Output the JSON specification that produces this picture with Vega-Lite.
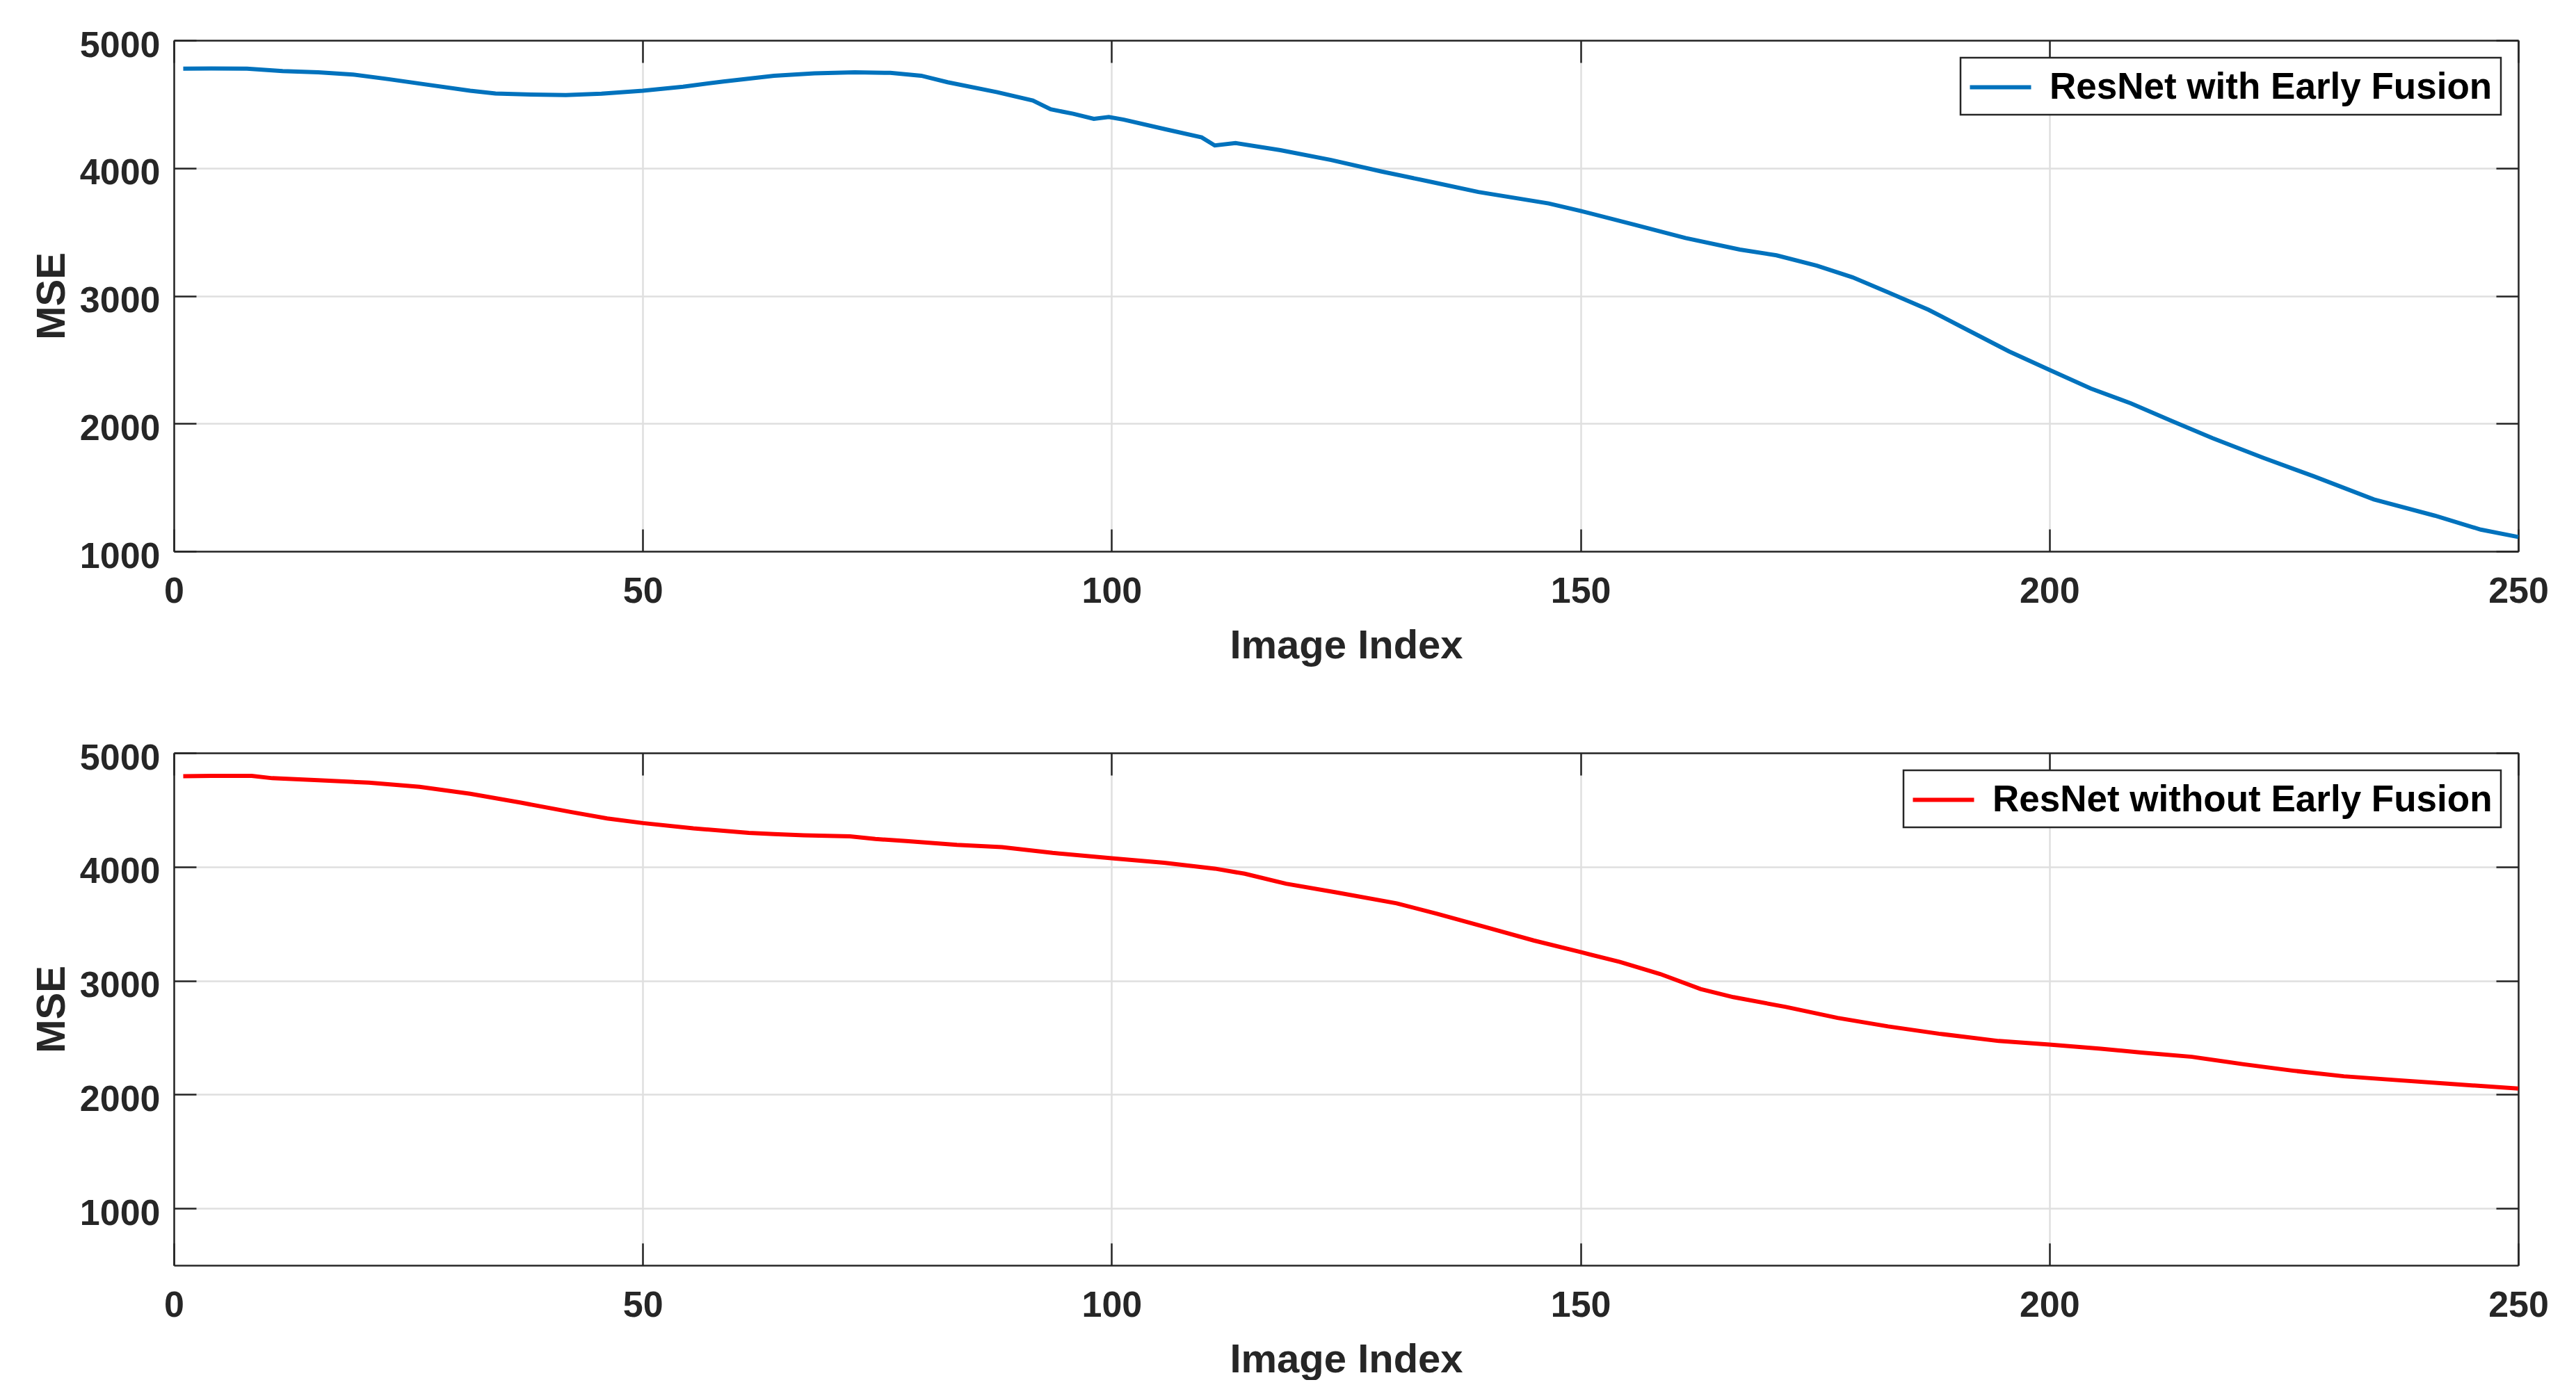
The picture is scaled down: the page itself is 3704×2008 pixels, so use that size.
{
  "$schema": "https://vega.github.io/schema/vega-lite/v6.json",
  "background": "white",
  "padding": {"left": 46, "top": 39, "right": 0, "bottom": 0},
  "bounds": "flush",
  "spacing": 290,
  "datasets": {
    "a": [
      {"x": 1, "mse": 4778, "series": "ResNet with Early Fusion"},
      {"x": 4, "mse": 4779, "series": "ResNet with Early Fusion"},
      {"x": 7.8, "mse": 4778, "series": "ResNet with Early Fusion"},
      {"x": 11.6, "mse": 4759, "series": "ResNet with Early Fusion"},
      {"x": 15.4, "mse": 4750, "series": "ResNet with Early Fusion"},
      {"x": 19.1, "mse": 4732, "series": "ResNet with Early Fusion"},
      {"x": 22.9, "mse": 4696, "series": "ResNet with Early Fusion"},
      {"x": 27.2, "mse": 4651, "series": "ResNet with Early Fusion"},
      {"x": 31.6, "mse": 4606, "series": "ResNet with Early Fusion"},
      {"x": 34.3, "mse": 4584, "series": "ResNet with Early Fusion"},
      {"x": 38.1, "mse": 4575, "series": "ResNet with Early Fusion"},
      {"x": 41.8, "mse": 4571, "series": "ResNet with Early Fusion"},
      {"x": 45.6, "mse": 4582, "series": "ResNet with Early Fusion"},
      {"x": 50, "mse": 4606, "series": "ResNet with Early Fusion"},
      {"x": 54.3, "mse": 4637, "series": "ResNet with Early Fusion"},
      {"x": 58.6, "mse": 4678, "series": "ResNet with Early Fusion"},
      {"x": 64, "mse": 4723, "series": "ResNet with Early Fusion"},
      {"x": 68.3, "mse": 4741, "series": "ResNet with Early Fusion"},
      {"x": 72.6, "mse": 4749, "series": "ResNet with Early Fusion"},
      {"x": 76.4, "mse": 4745, "series": "ResNet with Early Fusion"},
      {"x": 79.7, "mse": 4723, "series": "ResNet with Early Fusion"},
      {"x": 82.5, "mse": 4672, "series": "ResNet with Early Fusion"},
      {"x": 87.8, "mse": 4594, "series": "ResNet with Early Fusion"},
      {"x": 91.6, "mse": 4529, "series": "ResNet with Early Fusion"},
      {"x": 93.5, "mse": 4460, "series": "ResNet with Early Fusion"},
      {"x": 95.9, "mse": 4425, "series": "ResNet with Early Fusion"},
      {"x": 98.1, "mse": 4385, "series": "ResNet with Early Fusion"},
      {"x": 99.7, "mse": 4400, "series": "ResNet with Early Fusion"},
      {"x": 101.3, "mse": 4379, "series": "ResNet with Early Fusion"},
      {"x": 105.6, "mse": 4306, "series": "ResNet with Early Fusion"},
      {"x": 109.6, "mse": 4240, "series": "ResNet with Early Fusion"},
      {"x": 111.0, "mse": 4177, "series": "ResNet with Early Fusion"},
      {"x": 113.2, "mse": 4196, "series": "ResNet with Early Fusion"},
      {"x": 118.0, "mse": 4140, "series": "ResNet with Early Fusion"},
      {"x": 123.4, "mse": 4063, "series": "ResNet with Early Fusion"},
      {"x": 128.8, "mse": 3973, "series": "ResNet with Early Fusion"},
      {"x": 134.2, "mse": 3890, "series": "ResNet with Early Fusion"},
      {"x": 139.1, "mse": 3813, "series": "ResNet with Early Fusion"},
      {"x": 146.6, "mse": 3723, "series": "ResNet with Early Fusion"},
      {"x": 150, "mse": 3665, "series": "ResNet with Early Fusion"},
      {"x": 155.8, "mse": 3556, "series": "ResNet with Early Fusion"},
      {"x": 161.2, "mse": 3452, "series": "ResNet with Early Fusion"},
      {"x": 167, "mse": 3362, "series": "ResNet with Early Fusion"},
      {"x": 170.9, "mse": 3317, "series": "ResNet with Early Fusion"},
      {"x": 175.2, "mse": 3236, "series": "ResNet with Early Fusion"},
      {"x": 179.0, "mse": 3145, "series": "ResNet with Early Fusion"},
      {"x": 182.8, "mse": 3027, "series": "ResNet with Early Fusion"},
      {"x": 187.1, "mse": 2891, "series": "ResNet with Early Fusion"},
      {"x": 191.4, "mse": 2728, "series": "ResNet with Early Fusion"},
      {"x": 195.7, "mse": 2565, "series": "ResNet with Early Fusion"},
      {"x": 200, "mse": 2420, "series": "ResNet with Early Fusion"},
      {"x": 204.4, "mse": 2275, "series": "ResNet with Early Fusion"},
      {"x": 208.7, "mse": 2158, "series": "ResNet with Early Fusion"},
      {"x": 213.0, "mse": 2022, "series": "ResNet with Early Fusion"},
      {"x": 217.4, "mse": 1886, "series": "ResNet with Early Fusion"},
      {"x": 222.8, "mse": 1732, "series": "ResNet with Early Fusion"},
      {"x": 228.2, "mse": 1587, "series": "ResNet with Early Fusion"},
      {"x": 234.6, "mse": 1406, "series": "ResNet with Early Fusion"},
      {"x": 241.1, "mse": 1279, "series": "ResNet with Early Fusion"},
      {"x": 246.0, "mse": 1170, "series": "ResNet with Early Fusion"},
      {"x": 250, "mse": 1112, "series": "ResNet with Early Fusion"}
    ],
    "b": [
      {"x": 1, "mse": 4795, "series": "ResNet without Early Fusion"},
      {"x": 4, "mse": 4798, "series": "ResNet without Early Fusion"},
      {"x": 8.3, "mse": 4799, "series": "ResNet without Early Fusion"},
      {"x": 10.5, "mse": 4778, "series": "ResNet without Early Fusion"},
      {"x": 15.4, "mse": 4760, "series": "ResNet without Early Fusion"},
      {"x": 20.8, "mse": 4739, "series": "ResNet without Early Fusion"},
      {"x": 26.2, "mse": 4702, "series": "ResNet without Early Fusion"},
      {"x": 31.6, "mse": 4641, "series": "ResNet without Early Fusion"},
      {"x": 37.0, "mse": 4563, "series": "ResNet without Early Fusion"},
      {"x": 42.4, "mse": 4480, "series": "ResNet without Early Fusion"},
      {"x": 46.2, "mse": 4425, "series": "ResNet without Early Fusion"},
      {"x": 50, "mse": 4384, "series": "ResNet without Early Fusion"},
      {"x": 55.4, "mse": 4337, "series": "ResNet without Early Fusion"},
      {"x": 61.3, "mse": 4298, "series": "ResNet without Early Fusion"},
      {"x": 64, "mse": 4287, "series": "ResNet without Early Fusion"},
      {"x": 67.2, "mse": 4277, "series": "ResNet without Early Fusion"},
      {"x": 72.1, "mse": 4267, "series": "ResNet without Early Fusion"},
      {"x": 74.8, "mse": 4244, "series": "ResNet without Early Fusion"},
      {"x": 78.1, "mse": 4226, "series": "ResNet without Early Fusion"},
      {"x": 83.5, "mse": 4192, "series": "ResNet without Early Fusion"},
      {"x": 88.3, "mse": 4173, "series": "ResNet without Early Fusion"},
      {"x": 93.7, "mse": 4122, "series": "ResNet without Early Fusion"},
      {"x": 100, "mse": 4075, "series": "ResNet without Early Fusion"},
      {"x": 105.6, "mse": 4035, "series": "ResNet without Early Fusion"},
      {"x": 111.0, "mse": 3984, "series": "ResNet without Early Fusion"},
      {"x": 114.2, "mse": 3939, "series": "ResNet without Early Fusion"},
      {"x": 118.6, "mse": 3851, "series": "ResNet without Early Fusion"},
      {"x": 123.9, "mse": 3776, "series": "ResNet without Early Fusion"},
      {"x": 130.4, "mse": 3679, "series": "ResNet without Early Fusion"},
      {"x": 134.7, "mse": 3587, "series": "ResNet without Early Fusion"},
      {"x": 140.1, "mse": 3465, "series": "ResNet without Early Fusion"},
      {"x": 145.0, "mse": 3353, "series": "ResNet without Early Fusion"},
      {"x": 150, "mse": 3251, "series": "ResNet without Early Fusion"},
      {"x": 154.2, "mse": 3164, "series": "ResNet without Early Fusion"},
      {"x": 158.5, "mse": 3058, "series": "ResNet without Early Fusion"},
      {"x": 162.8, "mse": 2926, "series": "ResNet without Early Fusion"},
      {"x": 166.3, "mse": 2855, "series": "ResNet without Early Fusion"},
      {"x": 171.9, "mse": 2769, "series": "ResNet without Early Fusion"},
      {"x": 177.4, "mse": 2673, "series": "ResNet without Early Fusion"},
      {"x": 182.8, "mse": 2598, "series": "ResNet without Early Fusion"},
      {"x": 188.2, "mse": 2534, "series": "ResNet without Early Fusion"},
      {"x": 194.6, "mse": 2470, "series": "ResNet without Early Fusion"},
      {"x": 200, "mse": 2438, "series": "ResNet without Early Fusion"},
      {"x": 205.5, "mse": 2402, "series": "ResNet without Early Fusion"},
      {"x": 209.8, "mse": 2368, "series": "ResNet without Early Fusion"},
      {"x": 215.2, "mse": 2331, "series": "ResNet without Early Fusion"},
      {"x": 220.6, "mse": 2267, "series": "ResNet without Early Fusion"},
      {"x": 226.0, "mse": 2209, "series": "ResNet without Early Fusion"},
      {"x": 231.4, "mse": 2160, "series": "ResNet without Early Fusion"},
      {"x": 236.8, "mse": 2128, "series": "ResNet without Early Fusion"},
      {"x": 242.2, "mse": 2096, "series": "ResNet without Early Fusion"},
      {"x": 250, "mse": 2053, "series": "ResNet without Early Fusion"}
    ]
  },
  "config": {
    "font": "Liberation Sans",
    "view": {"stroke": null},
    "axis": {
      "labelFont": "Liberation Sans",
      "labelFontSize": 52,
      "labelFontWeight": "bold",
      "labelColor": "#262626",
      "titleFont": "Liberation Sans",
      "titleFontSize": 58,
      "titleFontWeight": "bold",
      "titleColor": "#262626",
      "domainColor": "#262626",
      "domainWidth": 2.5,
      "tickColor": "#262626",
      "tickWidth": 2.5,
      "tickSize": -32,
      "gridColor": "#dfdfdf",
      "gridWidth": 2.5,
      "labelFlush": false,
      "labelOverlap": false
    },
    "axisX": {
      "labelPadding": 105,
      "labelBaseline": "alphabetic",
      "titleY": 153,
      "titleBaseline": "alphabetic"
    },
    "axisY": {
      "labelPadding": 52,
      "labelBaseline": "alphabetic",
      "labelOffset": 23,
      "titleX": -158,
      "titleBaseline": "alphabetic",
      "titleAngle": 270
    },
    "legend": {
      "orient": "top-right",
      "offset": 25,
      "labelFont": "Liberation Sans",
      "labelFontSize": 53,
      "labelFontWeight": "bold",
      "labelColor": "#000000",
      "labelLimit": 0,
      "symbolType": "M-1.6,0H1.6",
      "symbolSize": 3025,
      "symbolStrokeWidth": 6,
      "symbolOffset": 15,
      "labelOffset": 40,
      "strokeColor": "#262626",
      "strokeWidth": 2.5,
      "fillColor": "white",
      "padding": 12,
      "cornerRadius": 0
    }
  },
  "resolve": {
    "scale": {"color": "independent", "x": "independent", "y": "independent"},
    "legend": {"color": "independent"}
  },
  "vconcat": [
    {
      "width": 3371,
      "height": 735,
      "data": {"name": "a"},
      "layer": [
        {
          "mark": {"type": "line", "strokeWidth": 6},
          "encoding": {
            "x": {"field": "x", "type": "quantitative", "scale": {"domain": [0, 250], "nice": false, "zero": false}, "axis": {"values": [0, 50, 100, 150, 200, 250], "format": "d", "title": "Image Index"}},
            "y": {"field": "mse", "type": "quantitative", "scale": {"domain": [1000, 5000], "nice": false, "zero": false}, "axis": {"values": [1000, 2000, 3000, 4000, 5000], "format": "d", "title": "MSE"}},
            "color": {"field": "series", "type": "nominal", "scale": {"range": ["#0072BD"]}, "legend": {"title": null}}
          }
        },
        {
          "mark": {"type": "line", "opacity": 0},
          "encoding": {
            "x": {"field": "x", "type": "quantitative", "scale": {"domain": [0, 250], "nice": false, "zero": false}, "axis": {"orient": "top", "values": [0, 50, 100, 150, 200, 250], "labels": false, "title": null, "grid": false}},
            "y": {"field": "mse", "type": "quantitative", "scale": {"domain": [1000, 5000], "nice": false, "zero": false}, "axis": {"orient": "right", "values": [1000, 2000, 3000, 4000, 5000], "labels": false, "title": null, "grid": false}}
          }
        }
      ],
      "resolve": {"scale": {"x": "independent", "y": "independent"}}
    },
    {
      "width": 3371,
      "height": 737,
      "data": {"name": "b"},
      "layer": [
        {
          "mark": {"type": "line", "strokeWidth": 6},
          "encoding": {
            "x": {"field": "x", "type": "quantitative", "scale": {"domain": [0, 250], "nice": false, "zero": false}, "axis": {"values": [0, 50, 100, 150, 200, 250], "format": "d", "title": "Image Index"}},
            "y": {"field": "mse", "type": "quantitative", "scale": {"domain": [500, 5000], "nice": false, "zero": false}, "axis": {"values": [1000, 2000, 3000, 4000, 5000], "format": "d", "title": "MSE"}},
            "color": {"field": "series", "type": "nominal", "scale": {"range": ["#FF0000"]}, "legend": {"title": null}}
          }
        },
        {
          "mark": {"type": "line", "opacity": 0},
          "encoding": {
            "x": {"field": "x", "type": "quantitative", "scale": {"domain": [0, 250], "nice": false, "zero": false}, "axis": {"orient": "top", "values": [0, 50, 100, 150, 200, 250], "labels": false, "title": null, "grid": false}},
            "y": {"field": "mse", "type": "quantitative", "scale": {"domain": [500, 5000], "nice": false, "zero": false}, "axis": {"orient": "right", "values": [1000, 2000, 3000, 4000, 5000], "labels": false, "title": null, "grid": false}}
          }
        }
      ],
      "resolve": {"scale": {"x": "independent", "y": "independent"}}
    }
  ]
}
